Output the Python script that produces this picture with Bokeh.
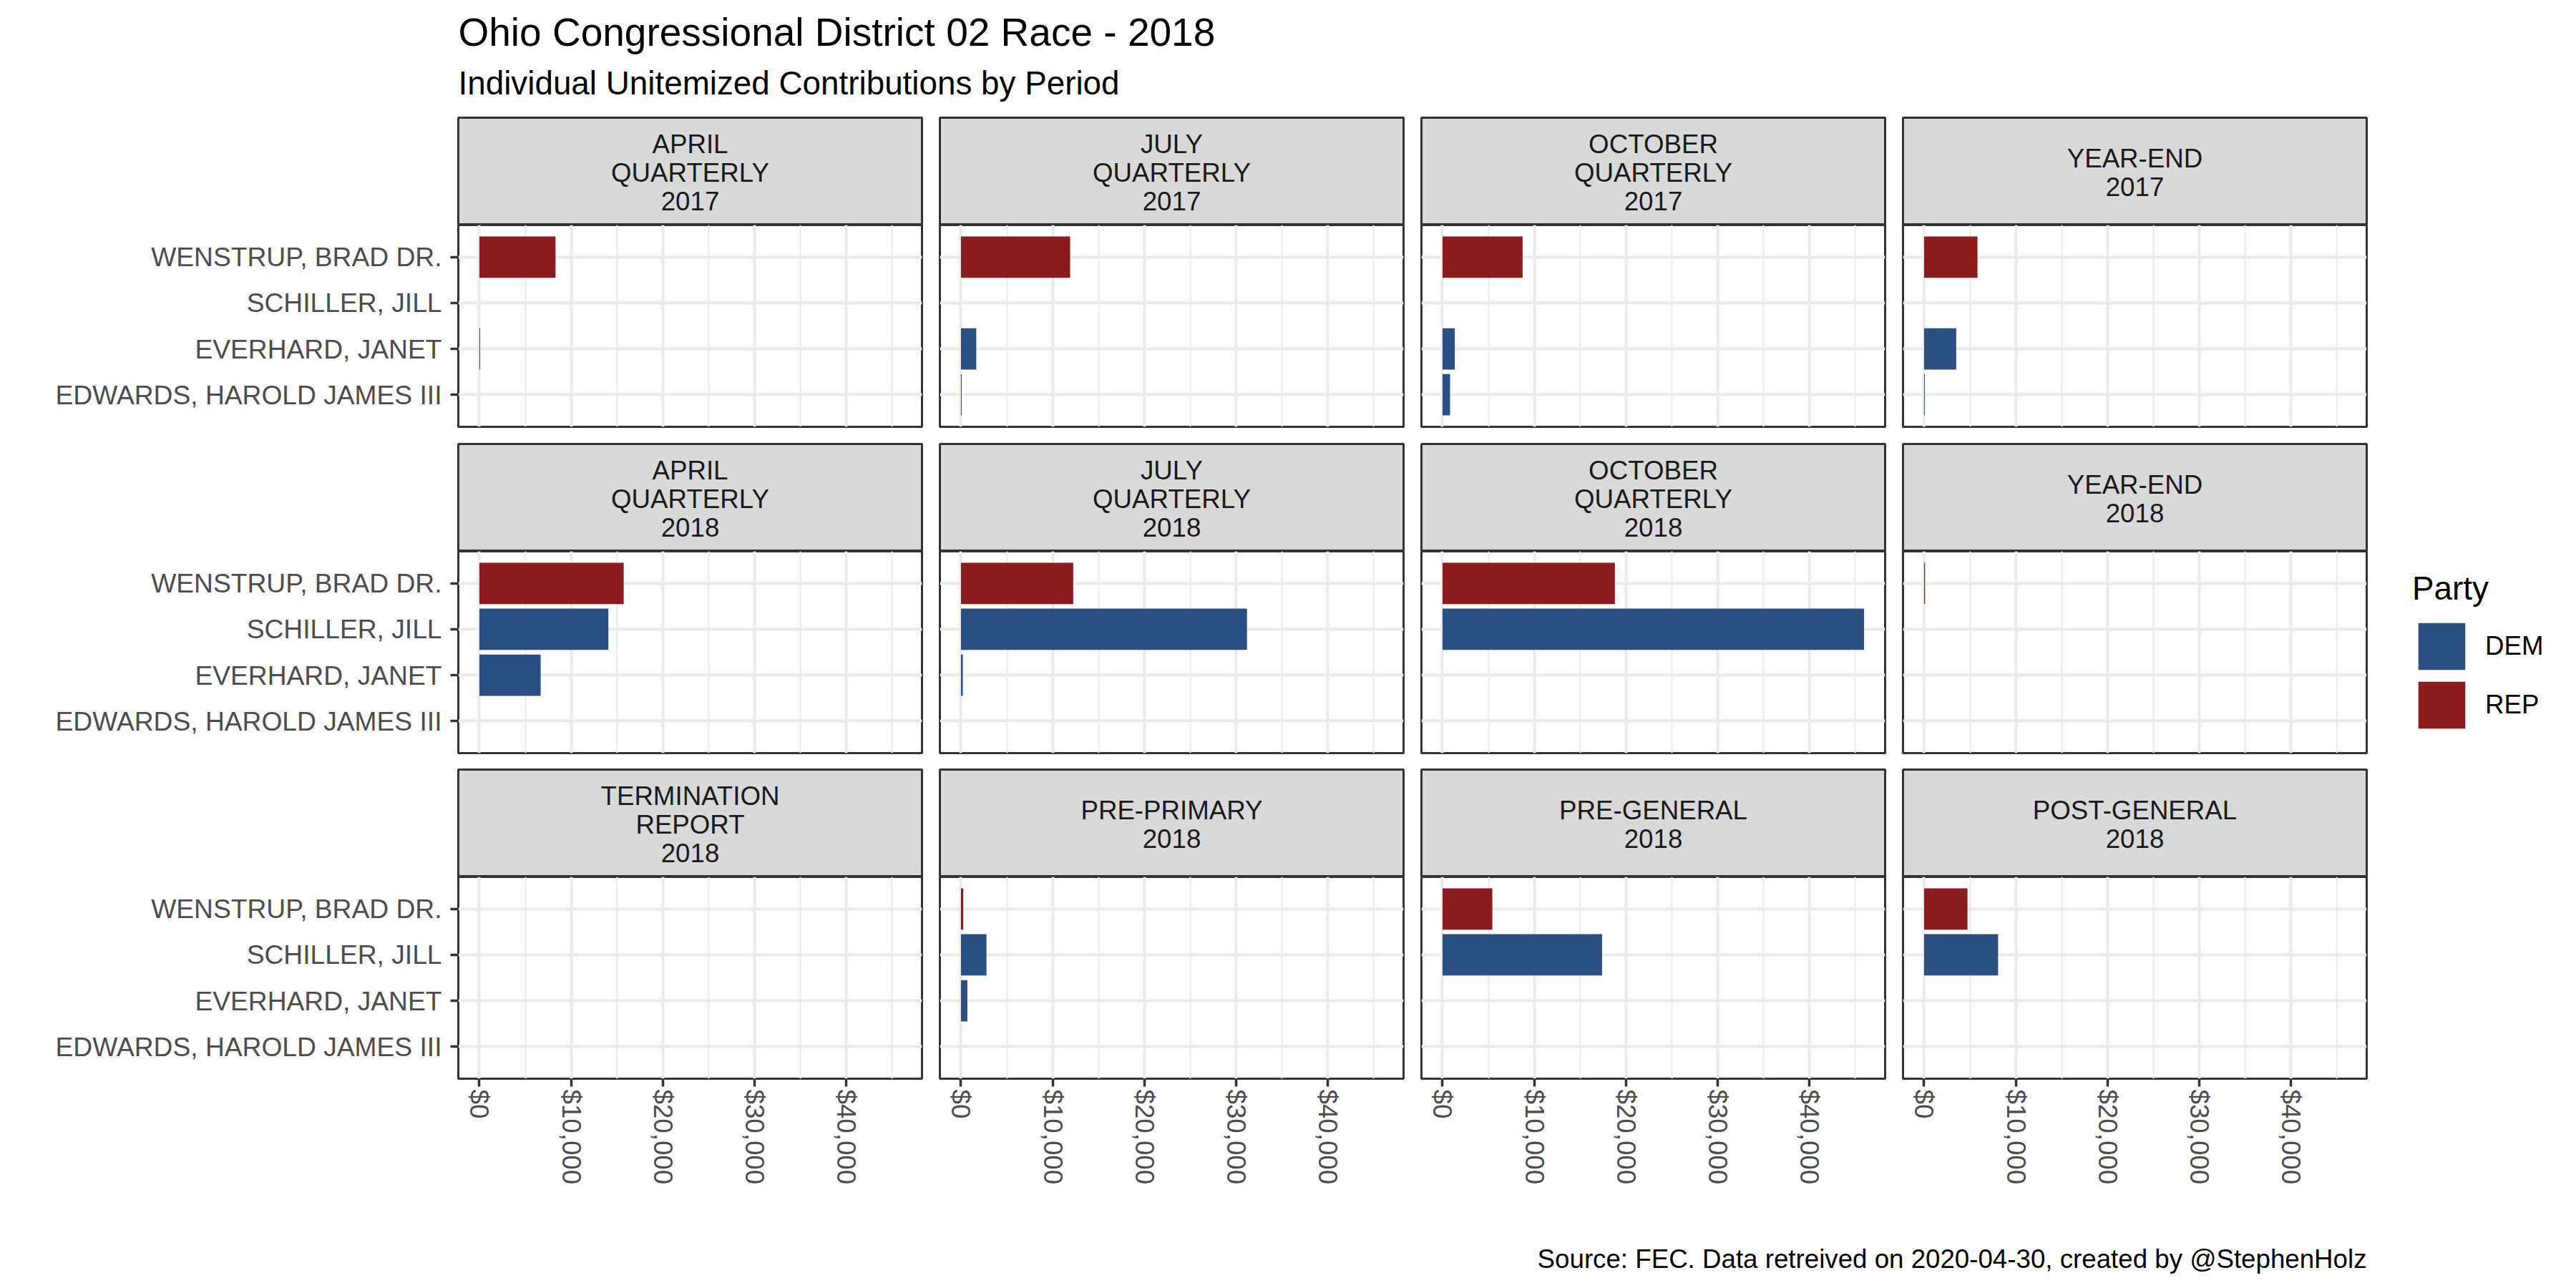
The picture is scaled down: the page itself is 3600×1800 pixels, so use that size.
import math
from bokeh.plotting import figure
from bokeh.models import (Range1d, FactorRange, FixedTicker, NumeralTickFormatter,
                          Label, ColumnDataSource)
from bokeh.layouts import row, column
from bokeh.transform import factor_cmap
from bokeh.embed import file_html
from bokeh.resources import INLINE

TITLE = "Ohio Congressional District 02 Race - 2018"
SUBTITLE = "Individual Unitemized Contributions by Period"
CAPTION = "Source: FEC. Data retreived on 2020-04-30, created by @StephenHolz"
LEGEND_TITLE = "Party"

periods = ["APRIL QUARTERLY 2017", "JULY QUARTERLY 2017", "OCTOBER QUARTERLY 2017", "YEAR-END 2017",
           "APRIL QUARTERLY 2018", "JULY QUARTERLY 2018", "OCTOBER QUARTERLY 2018", "YEAR-END 2018",
           "TERMINATION REPORT 2018", "PRE-PRIMARY 2018", "PRE-GENERAL 2018", "POST-GENERAL 2018"]
strip_labels = ["APRIL\nQUARTERLY\n2017", "JULY\nQUARTERLY\n2017", "OCTOBER\nQUARTERLY\n2017", "YEAR-END\n2017",
                "APRIL\nQUARTERLY\n2018", "JULY\nQUARTERLY\n2018", "OCTOBER\nQUARTERLY\n2018", "YEAR-END\n2018",
                "TERMINATION\nREPORT\n2018", "PRE-PRIMARY\n2018", "PRE-GENERAL\n2018", "POST-GENERAL\n2018"]

candidates = ["WENSTRUP, BRAD DR.", "SCHILLER, JILL", "EVERHARD, JANET", "EDWARDS, HAROLD JAMES III"]
cand_party = ["REP", "DEM", "DEM", "DEM"]
parties = ["DEM", "REP"]
party_colors = ["#2C4F82", "#8C1B1E"]

# contributions per period (same order as periods)
wenstrup = [8300, 11900, 8730, 5820, 15730, 12240, 18790, 100, 0, 250, 5430, 4730]
schiller = [0, 0, 0, 0, 14060, 31180, 45950, 0, 0, 2780, 17390, 8070]
everhard = [80, 1670, 1340, 3500, 6680, 200, 0, 0, 0, 700, 0, 0]
edwards = [0, 80, 820, 80, 0, 0, 0, 0, 0, 0, 0, 0]
values = [wenstrup, schiller, everhard, edwards]

x_major = [0, 10000, 20000, 30000, 40000]
x_minor = [5000, 15000, 25000, 35000, 45000]

FONT = "Liberation Sans"
FRAME_W, FRAME_H, STRIP_H = 648, 282, 150
LEFTS = [640, 13, 13, 13]
RIGHT = 12
STRIP_TOPS = [4, 12, 12]
PANEL_BOTTOMS = [12, 11, 190]
LINE_STEP = 39.5
BORDER = "#333333"
GRID = "#EBEBEB"

xmax = max(max(v) for v in values)
x_range = Range1d(-0.05 * xmax, 1.05 * xmax)
y_range = FactorRange(factors=list(reversed(candidates)), range_padding=0.2,
                      range_padding_units="absolute")


def bare(**kw):
    f = figure(title=None, toolbar_location=None, output_backend="svg",
               x_axis_location=None, y_axis_location=None, **kw)
    f.xgrid.visible = False
    f.ygrid.visible = False
    return f


def make_strip(i, col, r):
    s = bare(frame_width=FRAME_W, frame_height=STRIP_H, min_border_left=LEFTS[col],
             min_border_right=RIGHT, min_border_top=STRIP_TOPS[r], min_border_bottom=0,
             x_range=Range1d(0, 1), y_range=Range1d(STRIP_H, 0))
    s.background_fill_color = "#D9D9D9"
    s.outline_line_color = BORDER
    s.outline_line_width = 3
    lines = strip_labels[i].split("\n")
    n = len(lines)
    for k, txt in enumerate(lines):
        s.add_layout(Label(x=0.5, y=STRIP_H / 2 + 1.5 + (k - (n - 1) / 2) * LINE_STEP, text=txt,
                           text_align="center", text_baseline="middle", text_font=FONT,
                           text_font_size="36.7px", text_color="#1A1A1A", text_line_height=1.0))
    return s


def make_panel(i, col, r):
    p = figure(title=None, frame_width=FRAME_W, frame_height=FRAME_H, min_border_left=LEFTS[col],
               min_border_right=RIGHT, min_border_top=0, min_border_bottom=PANEL_BOTTOMS[r],
               x_range=x_range, y_range=y_range, toolbar_location=None, output_backend="svg")
    names, vals, pts = [], [], []
    for c, pty, v in zip(candidates, cand_party, values):
        if v[i] > 0:
            names.append(c)
            vals.append(v[i])
            pts.append(pty)
    src = ColumnDataSource(dict(cand=names, val=vals, party=pts))
    p.hbar(y="cand", left=0, right="val", height=0.9, source=src, line_color=None,
           fill_color=factor_cmap("party", palette=party_colors, factors=parties))
    ticker = FixedTicker(ticks=x_major, minor_ticks=x_minor)
    p.xaxis.ticker = ticker
    p.xgrid.ticker = ticker
    p.xgrid.grid_line_color = GRID
    p.xgrid.grid_line_width = 4
    p.xgrid.minor_grid_line_color = GRID
    p.xgrid.minor_grid_line_width = 2
    p.ygrid.grid_line_color = GRID
    p.ygrid.grid_line_width = 4
    p.outline_line_color = BORDER
    p.outline_line_width = 3
    for ax in (p.xaxis, p.yaxis):
        ax.axis_line_color = None
        ax.major_tick_line_color = BORDER
        ax.major_tick_line_width = 3.5
        ax.major_tick_in = 0
        ax.major_tick_out = 11
        ax.minor_tick_line_color = None
        ax.major_label_text_font = FONT
        ax.major_label_text_font_size = "36.7px"
        ax.major_label_text_color = "#4D4D4D"
        ax.major_label_standoff = 12
    p.yaxis.major_label_text_font_size = "37.2px"
    p.xaxis.major_label_standoff = 4
    p.xaxis.formatter = NumeralTickFormatter(format="$0,0")
    p.xaxis.major_label_orientation = -math.pi / 2
    p.xaxis.visible = (r == 2)
    p.yaxis.visible = (col == 0)
    return p


rows = []
for r in range(3):
    cells = []
    for c in range(4):
        i = r * 4 + c
        cells.append(column(make_strip(i, c, r), make_panel(i, c, r)))
    rows.append(row(*cells))
grid_col = column(*rows)

TOTAL_W = 3598
HEADER_H = 160
FOOTER_H = 100
LEG_W = TOTAL_W - (LEFTS[0] + FRAME_W + RIGHT) - 3 * (13 + FRAME_W + RIGHT)
LEG_H = sum(STRIP_TOPS) + 3 * STRIP_H + 3 * FRAME_H + sum(PANEL_BOTTOMS)

header = bare(width=TOTAL_W, height=HEADER_H, x_range=Range1d(0, TOTAL_W),
              y_range=Range1d(HEADER_H, 0), min_border=0, outline_line_color=None)
header.add_layout(Label(x=640, y=44.5, text=TITLE, text_font=FONT, text_font_size="55px",
                        text_baseline="middle", text_color="black", text_line_height=1.0))
header.add_layout(Label(x=640, y=115.8, text=SUBTITLE, text_font=FONT, text_font_size="45.8px",
                        text_baseline="middle", text_color="black", text_line_height=1.0))

leg = bare(width=LEG_W, height=LEG_H, x_range=Range1d(0, 1), y_range=FactorRange(factors=parties),
           min_border=0, outline_line_color=None)
leg_src = ColumnDataSource(dict(party=parties))
leg.hbar(y="party", right=0, height=0.9, source=leg_src, line_color=None,
         fill_color=factor_cmap("party", palette=party_colors, factors=parties),
         legend_field="party")
legend = leg.legend[0]
legend.location = (52, 671)
legend.title = LEGEND_TITLE
legend.title_text_font = FONT
legend.title_text_font_size = "45.8px"
legend.title_text_font_style = "normal"
legend.title_text_color = "black"
legend.title_standoff = 13
legend.label_text_font = FONT
legend.label_text_font_size = "36.7px"
legend.label_text_color = "black"
legend.glyph_width = 82
legend.glyph_height = 82
legend.spacing = 0
legend.label_standoff = 20
legend.padding = 0
legend.margin = 0
legend.border_line_color = None
legend.background_fill_alpha = 0

footer = bare(width=TOTAL_W, height=FOOTER_H, x_range=Range1d(0, TOTAL_W),
              y_range=Range1d(FOOTER_H, 0), min_border=0, outline_line_color=None)
footer.add_layout(Label(x=3307, y=61.5, text=CAPTION, text_font=FONT, text_font_size="36.7px",
                        text_align="right", text_baseline="middle", text_color="black",
                        text_line_height=1.0))

layout = column(header, row(grid_col, leg), footer)
open("out.html", "w").write(file_html(layout, INLINE))
